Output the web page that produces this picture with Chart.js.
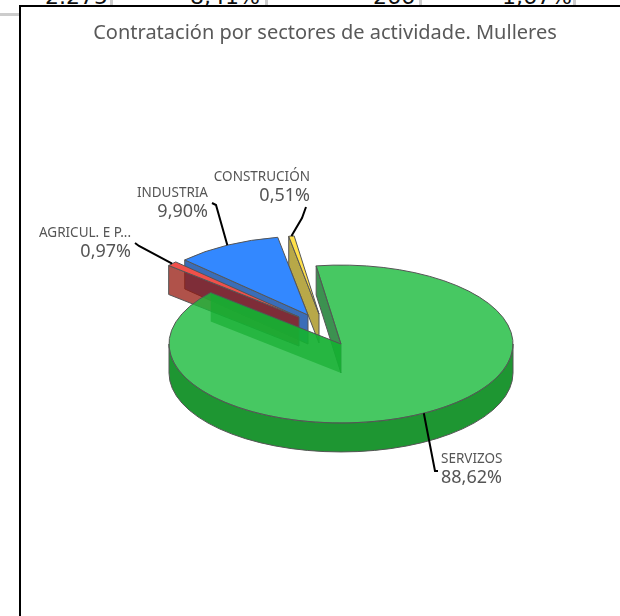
<!DOCTYPE html>
<html>
<head>
<meta charset="utf-8">
<style>
    html, body { margin: 0; padding: 0; background: #fff; overflow: hidden; }
    #strip { position: absolute; left: 0; top: 0; width: 620px; height: 5px; overflow: hidden; font: 22px/22px "DejaVu Sans", sans-serif; color: #111; }
    #strip span { position: absolute; top: -14px; text-align: right; }
    #strip i { position: absolute; top: 0; width: 3px; height: 5px; background: #ccc; }
    #bar { position: absolute; left: 0; top: 13px; width: 19px; height: 3px; background: #ccc; }
    #frame { position: absolute; left: 19px; top: 5px; width: 601px; height: 611px; box-sizing: border-box; border-left: 2px solid #000; border-top: 2px solid #000; background: #fff; }
    canvas { position: absolute; left: 0; top: 0; }
</style>
</head>
<body>
<div id="strip"></div>
<div id="bar"></div>
<div id="frame"></div>
<canvas id="chart" width="620" height="616"></canvas>
<script src="https://cdn.jsdelivr.net/npm/chart.js@4/dist/chart.umd.min.js"></script>
<script>
const categories = ["SERVIZOS", "AGRICUL. E P...", "INDUSTRIA", "CONSTRUCIÓN"]
const shares = [88.62, 0.97, 9.90, 0.51]
const chartTitle = "Contratación por sectores de actividade. Mulleres"
const tableRowCells = ["-2.275", "-8,41%", "266", "1,67%"]

// look of the slices: top face, cut wall
const topColors = ["rgba(25,186,59,0.8)", "#f0504a", "#3388ff", "#ffe04a"]
const wallColors = ["rgba(60,145,80,1)", "rgba(150,24,14,0.75)", "#3a6db8", "#b8a848"]
const rimColor = "rgb(30,150,50)"
const endWallColor = "rgba(0,117,0,0.65)"
const edgeColor = "#555"

// how the flat pie gets tilted on the page
const pieCenter = {x: 341, y: 344}
const pieRadius = 172
const squash = 0.459
const depth = 29
const sliceShifts = [{x: 0, y: 0}, {x: -42, y: -27}, {x: -33, y: -29}, {x: -22, y: -30}]

// callouts: elbow of the leader, anchor of the text
const labelFont = '13.5px "Noto Sans", sans-serif'
const valueFont = '18px "Noto Sans", sans-serif'
const callouts = [
    {elbow: [[435, 471], [438, 471]], x: 441, y: 463, align: "left"},
    {elbow: [[139, 246], [135, 243]], x: 131, y: 237, align: "right"},
    {elbow: [[216, 205], [212, 203]], x: 208, y: 197, align: "right"},
    {elbow: [[302, 218], [306, 207]], x: 310, y: 181, align: "right"}
]

// leftovers of the table sitting behind the chart
const strip = document.getElementById("strip")
const cellRightEdges = [108, 260, 415, 572]
tableRowCells.forEach((txt, i) => {
    const s = document.createElement("span")
    s.textContent = txt
    s.style.right = (620 - cellRightEdges[i]) + "px"
    strip.appendChild(s)
})
const cellBars = [110, 265, 419, 573]
cellBars.forEach(x => {
    const b = document.createElement("i")
    b.style.left = x + "px"
    strip.appendChild(b)
})

const formatShare = v => v.toFixed(2).replace(".", ",") + "%"

const tiltPlugin = {
    id: "tilt",
    beforeDatasetDraw(chart, args) {
        const ctx = chart.ctx
        const arcs = args.meta.data

        // back to front so the big slice lands last
        for (let i = arcs.length - 1; i >= 0; i--) {
            const arc = arcs[i]
            const cx = pieCenter.x + sliceShifts[i].x
            const cy = pieCenter.y + sliceShifts[i].y
            const r = arc.outerRadius
            const rimX = a => cx + r * Math.cos(a)
            const rimY = a => cy + r * squash * Math.sin(a)

            const wallPath = a => {
                ctx.beginPath()
                ctx.moveTo(cx, cy)
                ctx.lineTo(rimX(a), rimY(a))
                ctx.lineTo(rimX(a), rimY(a) + depth)
                ctx.lineTo(cx, cy + depth)
                ctx.closePath()
            }

            wallPath(arc.startAngle)
            ctx.fillStyle = wallColors[i]
            ctx.fill()
            ctx.strokeStyle = edgeColor
            ctx.lineWidth = 1
            ctx.stroke()

            if (arc.endAngle - arc.startAngle > Math.PI) {
                wallPath(arc.endAngle)
                ctx.fillStyle = endWallColor
                ctx.fill()

                // outer wall of the front half
                ctx.beginPath()
                ctx.ellipse(cx, cy, r, r * squash, 0, 0, Math.PI)
                ctx.ellipse(cx, cy + depth, r, r * squash, 0, Math.PI, 0, true)
                ctx.closePath()
                ctx.fillStyle = rimColor
                ctx.fill()
                ctx.strokeStyle = edgeColor
                ctx.stroke()
            }

            // top face is the library's own arc, flattened
            ctx.save()
            ctx.translate(cx, cy)
            ctx.scale(1, squash)
            ctx.translate(-arc.x, -arc.y)
            arc.draw(ctx)
            ctx.restore()

            ctx.beginPath()
            ctx.moveTo(cx, cy)
            ctx.ellipse(cx, cy, r, r * squash, 0, arc.startAngle, arc.endAngle)
            ctx.closePath()
            ctx.strokeStyle = edgeColor
            ctx.lineWidth = 1
            ctx.stroke()
        }
        return false
    },
    afterDatasetsDraw(chart) {
        const ctx = chart.ctx
        const arcs = chart.getDatasetMeta(0).data
        arcs.forEach((arc, i) => {
            const mid = (arc.startAngle + arc.endAngle) / 2
            const c = callouts[i]
            const ax = pieCenter.x + sliceShifts[i].x + arc.outerRadius * Math.cos(mid)
            const ay = pieCenter.y + sliceShifts[i].y + arc.outerRadius * squash * Math.sin(mid)

            ctx.beginPath()
            ctx.moveTo(ax, ay)
            c.elbow.forEach(p => ctx.lineTo(p[0], p[1]))
            ctx.strokeStyle = "#000"
            ctx.lineWidth = 2
            ctx.stroke()

            ctx.fillStyle = "#555"
            ctx.textAlign = c.align
            ctx.textBaseline = "alphabetic"
            ctx.font = labelFont
            ctx.fillText(categories[i], c.x, c.y)
            ctx.font = valueFont
            ctx.fillText(formatShare(shares[i]), c.x, c.y + 20)
        })
    }
}

new Chart(document.getElementById("chart").getContext("2d"), {
    type: "pie",
    data: {
        labels: categories,
        datasets: [{
            data: shares,
            backgroundColor: topColors,
            borderWidth: 0,
            hoverOffset: 0,
            radius: pieRadius
        }]
    },
    options: {
        responsive: false,
        animation: false,
        rotation: -8.3,
        layout: {padding: {left: 30, right: 0, top: 0, bottom: 60}},
        plugins: {
            legend: {display: false},
            tooltip: {enabled: false},
            title: {
                display: true,
                text: chartTitle,
                color: "#595959",
                font: {family: '"Noto Sans", sans-serif', size: 20, weight: "normal"},
                padding: {top: 21, bottom: 20}
            }
        }
    },
    plugins: [tiltPlugin]
})
</script>
</body>
</html>
